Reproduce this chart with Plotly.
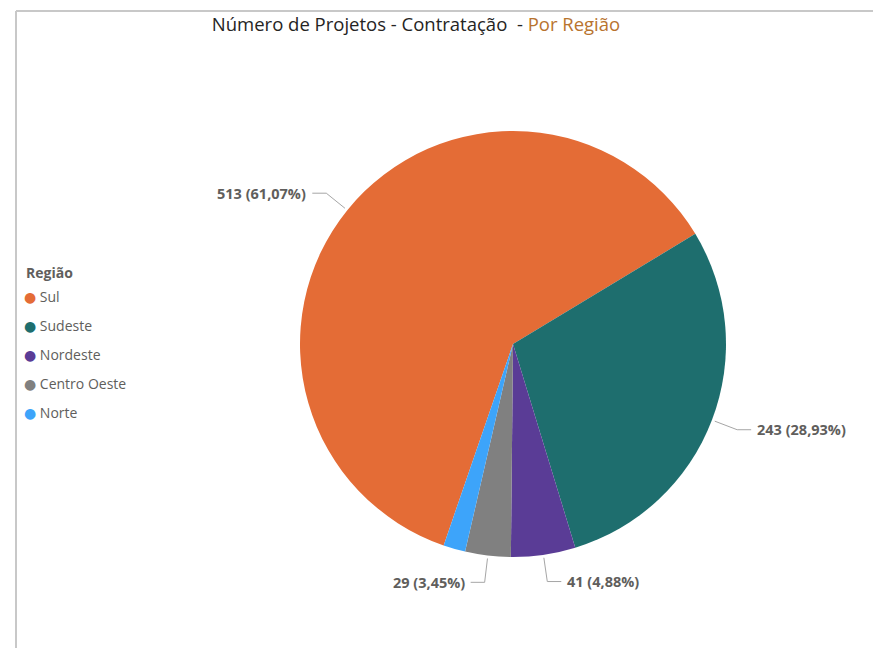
import math
import plotly.graph_objects as go

# ---- data ----
regions = ["Sul", "Sudeste", "Nordeste", "Centro-Oeste", "Norte"]
legend_names = ["Sul", "Sudeste", "Nordeste", "Centro Oeste", "Norte"]
projects = [513, 243, 41, 29, 14]
colors = ["#E46C36", "#1E6E6E", "#5A3C96", "#808080", "#3DA4FA"]

W, H = 881, 648
OFF = 8                        # page body margin offset
CX, CY, R = 513 - OFF, 344 - OFF, 213   # pie center / radius in figure pixels
ROT = 199                      # start angle (clockwise from 12 o'clock)

fig = go.Figure()
fig.add_trace(go.Pie(
    labels=regions, values=projects, sort=False, direction="clockwise",
    rotation=ROT, marker=dict(colors=colors, line=dict(width=0)),
    textinfo="none", hoverinfo="label+value+percent", showlegend=False,
    domain=dict(x=[(CX - R) / W, (CX + R) / W], y=[(H - CY - R) / H, (H - CY + R) / H]),
))

# legend via dummy traces; coloured dot drawn in the entry text
for name, col in zip(legend_names, colors):
    fig.add_trace(go.Scatter(x=[None], y=[None], mode="markers",
                             name=f"<span style='color:{col}'>●</span> {name}",
                             legendgroup=name,
                             marker=dict(color="rgba(0,0,0,0)", size=1,
                                         line=dict(width=0))))

def px2paper(x, y):
    return x / W, 1 - y / H

total = sum(projects)
shapes = []
annotations = []
cum = 0
for v in projects:
    pct = v / total * 100
    mid = math.radians(ROT + (cum + v / 2) / total * 360)
    cum += v
    if pct < 3:
        continue
    dx, dy = math.sin(mid), -math.cos(mid)
    p1 = (CX + (R + 3) * dx, CY + (R + 3) * dy)
    p2 = (CX + (R + 27) * dx, CY + (R + 27) * dy)
    side = 1 if dx >= 0 else -1
    p3 = (p2[0] + side * 14, p2[1])
    for a, b in [(p1, p2), (p2, p3)]:
        x0, y0 = px2paper(*a)
        x1, y1 = px2paper(*b)
        shapes.append(dict(type="line", xref="paper", yref="paper",
                           x0=x0, y0=y0, x1=x1, y1=y1,
                           line=dict(color="#A6A6A6", width=1)))
    tx, ty = px2paper(p3[0] + side * 4, p3[1])
    label = f"{v} ({pct:.2f}%)".replace(".", ",")
    annotations.append(dict(text=f"<b>{label}</b>", x=tx, y=ty, xref="paper", yref="paper",
                            xanchor="left" if side > 0 else "right", yanchor="middle",
                            showarrow=False, font=dict(size=14.5, color="#605E5C")))

# legend title
lx, ly = px2paper(24 - OFF, 272 - OFF)
annotations.append(dict(text="<b>Região</b>", x=lx, y=ly, xref="paper", yref="paper",
                        xanchor="left", yanchor="middle", showarrow=False,
                        font=dict(size=14, color="#605E5C")))

# visual frame
fx0, fy0 = px2paper(16 - OFF, 11 - OFF)
shapes.append(dict(type="line", xref="paper", yref="paper", x0=fx0, y0=fy0, x1=1, y1=fy0,
                   line=dict(color="#C8C8C8", width=2)))
shapes.append(dict(type="line", xref="paper", yref="paper", x0=fx0, y0=fy0, x1=fx0, y1=0,
                   line=dict(color="#C8C8C8", width=2)))

leg_x, _ = px2paper(24 - OFF - 40, 0)
_, leg_y = px2paper(0, 281 - OFF)

fig.update_layout(
    width=W, height=H,
    margin=dict(l=0, r=0, t=0, b=0, autoexpand=False),
    paper_bgcolor="white", plot_bgcolor="white",
    font=dict(family="Open Sans, DejaVu Sans, sans-serif", color="#605E5C"),
    title=dict(text="Número de Projetos - Contratação  - <span style='color:#B8732E'>Por Região</span>",
               x=(416 - OFF) / W, xanchor="center", y=1 - (25 - OFF) / H, yanchor="middle",
               font=dict(size=18.5, color="#252423")),
    xaxis=dict(visible=False), yaxis=dict(visible=False),
    legend=dict(x=leg_x, xanchor="left", y=leg_y, yanchor="top",
                font=dict(size=14, color="#605E5C"), tracegroupgap=7.7,
                bgcolor="rgba(0,0,0,0)"),
    shapes=shapes, annotations=annotations,
)

fig.write_html("out.html")
